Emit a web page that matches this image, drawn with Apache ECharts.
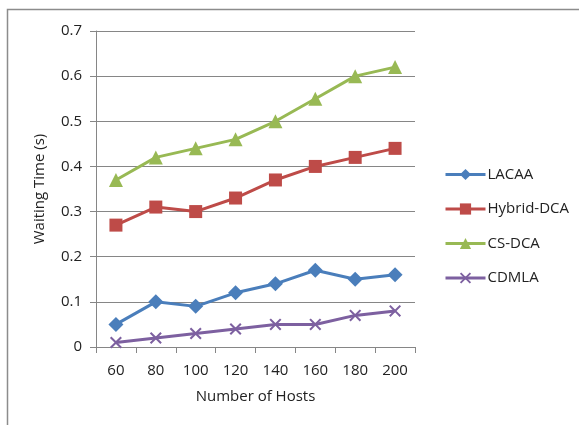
<!DOCTYPE html>
<html><head><meta charset="utf-8">
<script src="https://cdn.jsdelivr.net/npm/echarts@6/dist/echarts.min.js"></script>
<style>html,body{margin:0;padding:0;background:#fff}#c{width:579px;height:425px}</style>
</head><body><div id="c"></div>
<script>
const categories = ['60','80','100','120','140','160','180','200'];
const lacaa = [0.05,0.10,0.09,0.12,0.14,0.17,0.15,0.16];
const hybridDca = [0.27,0.31,0.30,0.33,0.37,0.40,0.42,0.44];
const csDca = [0.37,0.42,0.44,0.46,0.50,0.55,0.60,0.62];
const cdmla = [0.01,0.02,0.03,0.04,0.05,0.05,0.07,0.08];
const seriesNames = ['LACAA','Hybrid-DCA','CS-DCA','CDMLA'];
const colors = ['#4A7EBB','#BE4B48','#98B954','#7D60A0'];
const xPath = 'path://M0,1.2L1.2,0L5,3.8L8.8,0L10,1.2L6.2,5L10,8.8L8.8,10L5,6.2L1.2,10L0,8.8L3.8,5Z';
const font = '"Open Sans", "Noto Sans", sans-serif';
const chart = echarts.init(document.getElementById('c'));
function mk(name, data, color, symbol, size){
  return {name, type:'line', data, symbol, symbolSize:size, showSymbol:true,
    lineStyle:{color, width:3}, itemStyle:{color}, animation:false};
}
chart.setOption({
  animation:false,
  graphic:[{type:'rect', shape:{x:7.5,y:9.5,width:580,height:430}, style:{fill:'none',stroke:'#8c8c8c',lineWidth:1.5}}],
  grid:{left:96, right:164, top:31, bottom:78},
  legend:{orient:'vertical', left:439, top:162, itemWidth:40, itemHeight:14, itemGap:19.5,
    lineStyle:{width:3},
    textStyle:{fontFamily:font, fontSize:15, color:'#222', padding:[0,0,0,-3]},
    data:seriesNames},
  xAxis:{type:'category', data:categories, boundaryGap:true,
    name:'Number of Hosts', nameLocation:'middle', nameGap:42,
    nameTextStyle:{fontFamily:font, fontSize:15, color:'#222'},
    axisLine:{lineStyle:{color:'#868686'}},
    axisTick:{show:true, length:6, lineStyle:{color:'#868686'}},
    axisLabel:{fontFamily:font, fontSize:15, color:'#222', margin:16}},
  yAxis:{type:'value', min:0, max:0.7, interval:0.1,
    name:'Waiting Time (s)', nameLocation:'middle', nameGap:49,
    nameTextStyle:{fontFamily:font, fontSize:15, color:'#222'},
    axisLine:{show:true, lineStyle:{color:'#868686'}},
    axisTick:{show:true, length:6, lineStyle:{color:'#868686'}},
    splitLine:{lineStyle:{color:'#868686'}},
    axisLabel:{fontFamily:font, fontSize:15, color:'#222', margin:14,
      formatter:v=> v===0 ? '0' : v.toFixed(1)}},
  series:[
    mk(seriesNames[0], lacaa, colors[0], 'diamond', 15),
    mk(seriesNames[1], hybridDca, colors[1], 'rect', 13),
    mk(seriesNames[2], csDca, colors[2], 'triangle', 14),
    mk(seriesNames[3], cdmla, colors[3], xPath, 12)
  ]
});
</script></body></html>
